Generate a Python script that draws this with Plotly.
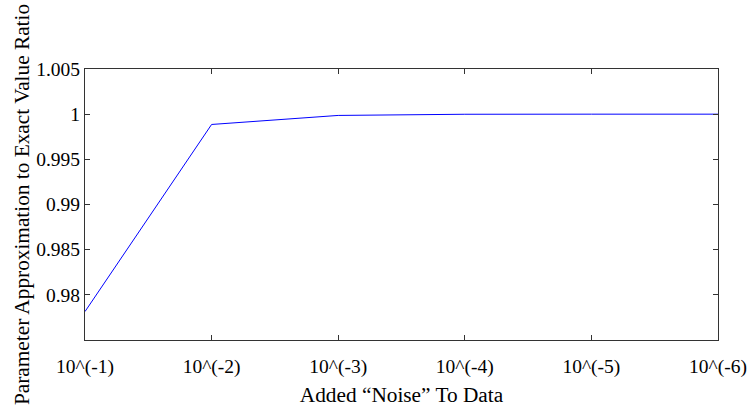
import plotly.graph_objects as go

noise_labels = ["10^(-1)", "10^(-2)", "10^(-3)", "10^(-4)", "10^(-5)", "10^(-6)"]
ratio = [0.97815, 0.99886, 0.99986, 0.99999, 1.0, 1.0]
y_ticks = [0.98, 0.985, 0.99, 0.995, 1.0, 1.005]
y_ticktext = ["0.98", "0.985", "0.99", "0.995", "1", "1.005"]

FAM = "Times New Roman, Liberation Serif, serif"
tick_font = dict(family=FAM, size=19.5, color="black")
title_font = dict(family=FAM, size=21.3, color="black")

fig = go.Figure()
fig.add_trace(go.Scatter(
    x=noise_labels, y=ratio, mode="lines",
    line=dict(color="rgb(0,0,255)", width=1),
    showlegend=False,
))

fig.update_layout(
    width=748, height=415,
    margin=dict(l=85, r=30, t=69, b=75, autoexpand=False),
    paper_bgcolor="white", plot_bgcolor="white",
    font=dict(family=FAM, size=19.5, color="black"),
)
fig.update_xaxes(
    type="category", range=[0, 5], automargin=False,
    showline=True, linecolor="#333", linewidth=1, mirror="ticks",
    ticks="inside", ticklen=5, tickcolor="#333",
    showgrid=False, zeroline=False,
    tickfont=tick_font, ticklabelstandoff=9,
    title=dict(text="Added “Noise” To Data", font=title_font, standoff=9),
)
fig.update_yaxes(
    range=[0.975, 1.005], automargin=False,
    tickvals=y_ticks, ticktext=y_ticktext,
    showline=True, linecolor="#333", linewidth=1, mirror="ticks",
    ticks="inside", ticklen=5, tickcolor="#333",
    showgrid=False, zeroline=False,
    tickfont=tick_font,
    title=dict(text="Parameter Approximation to Exact Value Ratio", font=title_font, standoff=0),
)

fig.write_html("out.html")
